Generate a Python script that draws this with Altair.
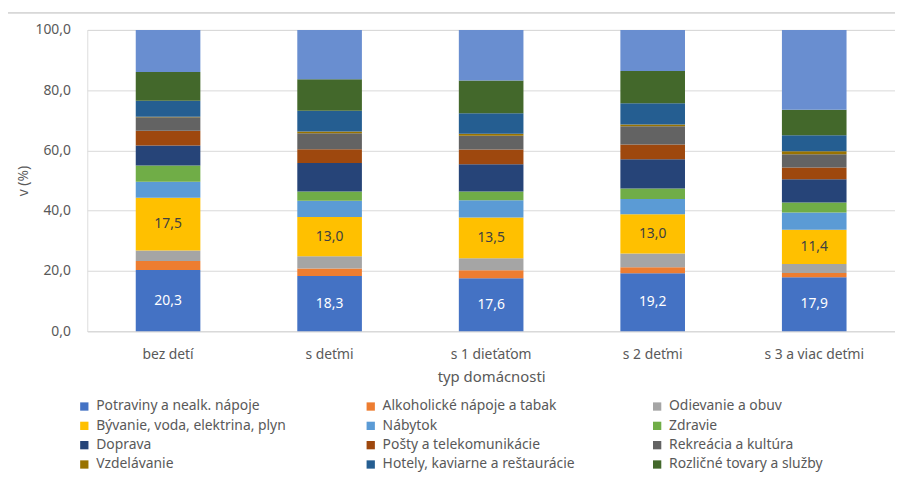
import altair as alt
import pandas as pd

categories = ["bez detí", "s deťmi", "s 1 dieťaťom", "s 2 deťmi", "s 3 a viac deťmi"]

series = [
    "Potraviny a nealk. nápoje",
    "Alkoholické nápoje a tabak",
    "Odievanie a obuv",
    "Bývanie, voda, elektrina, plyn",
    "Nábytok",
    "Zdravie",
    "Doprava",
    "Pošty a telekomunikácie",
    "Rekreácia a kultúra",
    "Vzdelávanie",
    "Hotely, kaviarne a reštaurácie",
    "Rozličné tovary a služby",
    "Ostatné",
]

potraviny = [20.3, 18.3, 17.6, 19.2, 17.9]
alkohol = [3.0, 2.5, 2.6, 2.0, 1.4]
odievanie = [3.5, 4.1, 4.0, 4.6, 3.0]
byvanie = [17.5, 13.0, 13.5, 13.0, 11.4]
nabytok = [5.3, 5.4, 5.8, 5.1, 5.7]
zdravie = [5.4, 3.1, 2.9, 3.5, 3.3]
doprava = [6.6, 9.4, 9.0, 9.7, 7.7]
posty = [4.9, 4.6, 4.9, 4.9, 3.9]
rekreacia = [4.5, 5.3, 4.6, 6.0, 4.4]
vzdelavanie = [0.2, 0.6, 0.6, 0.6, 1.0]
hotely = [5.3, 6.9, 6.8, 7.1, 5.3]
rozlicne = [9.5, 10.4, 10.9, 10.7, 8.5]
ostatne = [14.0, 16.4, 16.8, 13.6, 26.5]

values = [potraviny, alkohol, odievanie, byvanie, nabytok, zdravie, doprava,
          posty, rekreacia, vzdelavanie, hotely, rozlicne, ostatne]

colors = ["#4472C4", "#ED7D31", "#A5A5A5", "#FFC000", "#5B9BD5", "#70AD47",
          "#264478", "#9E480E", "#636363", "#997300", "#255E91", "#43682B",
          "#698ED0"]

labelled = ["Potraviny a nealk. nápoje", "Bývanie, voda, elektrina, plyn"]

rows = []
for i, (s, vals) in enumerate(zip(series, values)):
    for c, v in zip(categories, vals):
        rows.append({"cat": c, "series": s, "idx": i, "value": v})
df = pd.DataFrame(rows)

FONT = "Noto Sans"
GRAY = "#595959"

x_enc = alt.X(
    "cat:N", sort=categories,
    scale=alt.Scale(paddingInner=0.6, paddingOuter=0.3),
    axis=alt.Axis(title="typ domácnosti", labelAngle=0, ticks=False,
                  labelPadding=17, labelFontSize=14, labelColor=GRAY,
                  titleFontSize=15, titleColor=GRAY, titleFontWeight="normal",
                  titleY=46, titleBaseline="middle",
                  domainColor="#D9D9D9", grid=False),
)

bars = alt.Chart(df).mark_bar().encode(
    x=x_enc,
    y=alt.Y(
        "value:Q", stack="zero",
        scale=alt.Scale(domain=[0, 100], nice=False),
        axis=alt.Axis(title="v (%)", values=[0, 20, 40, 60, 80, 100],
                      labelExpr="replace(format(datum.value, '.1f'), '.', ',')",
                      ticks=False, domain=False, labelPadding=17,
                      labelFontSize=14, labelColor=GRAY,
                      titleFontSize=14, titleColor=GRAY, titleFontWeight="normal",
                      titleX=-64, titleY=152, titleAlign="center",
                      titleBaseline="middle",
                      gridColor="#D9D9D9"),
    ),
    color=alt.Color(
        "series:N",
        scale=alt.Scale(domain=series, range=colors),
        legend=alt.Legend(
            title=None, values=series[:12], orient="none", direction="horizontal",
            legendX=-10, legendY=373, columns=3, gridAlign="all",
            columnPadding=76, rowPadding=5.5,
            symbolType="square", symbolSize=70, symbolStrokeWidth=0,
            labelFontSize=14, labelColor=GRAY, labelLimit=400, labelOffset=5,
        ),
    ),
    order=alt.Order("idx:Q", sort="ascending"),
)

text = alt.Chart(df).transform_stack(
    stack="value", groupby=["cat"], as_=["y0", "y1"],
    sort=[alt.SortField("idx", order="ascending")],
).transform_calculate(
    mid="(datum.y0 + datum.y1) / 2",
    lab="replace(format(datum.value, '.1f'), '.', ',')",
).transform_filter(
    alt.FieldOneOfPredicate(field="series", oneOf=labelled)
).mark_text(fontSize=14, font=FONT).encode(
    x=alt.X("cat:N", sort=categories),
    y=alt.Y("mid:Q"),
    text="lab:N",
    color=alt.condition(
        "datum.series == 'Bývanie, voda, elektrina, plyn'",
        alt.value("#404040"), alt.value("white")),
)

border_left = alt.Chart(df).mark_rule(color="#D9D9D9", strokeWidth=1).encode(
    x=alt.value(-80.5), y=alt.value(-18), y2=alt.value(500))
border_top = alt.Chart(df).mark_rule(color="#D9D9D9", strokeWidth=1).encode(
    x=alt.value(-80.5), x2=alt.value(900), y=alt.value(-17.5))

chart = alt.layer(bars, text, border_left, border_top).properties(
    width=815, height=304,
    autosize=alt.AutoSizeParams(type="none"),
    padding={"left": 80, "top": 20, "right": 0, "bottom": 145},
).configure_view(stroke=None).configure(
    font=FONT,
)

chart.save("out.html", embed_options={"renderer": "svg", "actions": False})
